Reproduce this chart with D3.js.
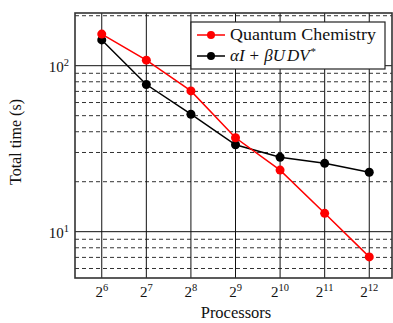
<!DOCTYPE html>
<html>
<head>
<meta charset="utf-8">
<script src="https://cdn.jsdelivr.net/npm/d3@7"></script>
<style>
  body { margin: 0; background: #fff; }
</style>
</head>
<body>
<svg id="chart" width="393" height="323" font-family="'Liberation Serif', 'DejaVu Serif', serif"></svg>
<script>
// processors as powers of two
const exponents = [6, 7, 8, 9, 10, 11, 12];
const quantumChem = [155, 108, 70.5, 36.8, 23.5, 12.9, 7.05];
const udvSeries = [143, 77, 51, 33.4, 28.1, 25.8, 22.8];
const yMajor = [10, 100];
const yMinor = [6, 7, 8, 9, 20, 30, 40, 50, 60, 70, 80, 90, 200];

const svg = d3.select("#chart");
const margin = { top: 13, right: 1, bottom: 45, left: 75 };
const width = 393 - margin.left - margin.right;
const height = 323 - margin.top - margin.bottom;

const x = d3.scaleLog().base(2).domain([Math.pow(2, 5.4), Math.pow(2, 12.51)]).range([0, width]);
const y = d3.scaleLog().domain([5.26, 207.7]).range([height, 0]);

const g = svg.append("g").attr("transform", "translate(" + margin.left + "," + margin.top + ")");

// minor horizontal grid (dashed)
g.selectAll(".minor").data(yMinor).enter().append("line")
  .attr("x1", 0).attr("x2", width)
  .attr("y1", d => y(d)).attr("y2", d => y(d))
  .attr("stroke", "#333").attr("stroke-width", 1)
  .attr("stroke-dasharray", "4,3");

// major horizontal grid
g.selectAll(".major").data(yMajor).enter().append("line")
  .attr("x1", 0).attr("x2", width)
  .attr("y1", d => y(d)).attr("y2", d => y(d))
  .attr("stroke", "#111").attr("stroke-width", 1);

// vertical grid
g.selectAll(".vgrid").data(exponents).enter().append("line")
  .attr("x1", d => x(Math.pow(2, d))).attr("x2", d => x(Math.pow(2, d)))
  .attr("y1", 0).attr("y2", height)
  .attr("stroke", "#111").attr("stroke-width", 1);

// frame
g.append("rect").attr("x", 0).attr("y", 0).attr("width", width).attr("height", height)
  .attr("fill", "none").attr("stroke", "#333").attr("stroke-width", 1.6);

// x tick labels
const xl = g.selectAll(".xl").data(exponents).enter().append("text")
  .attr("x", d => x(Math.pow(2, d)))
  .attr("y", height + 19)
  .attr("text-anchor", "middle")
  .attr("fill", "#111")
  .style("font-size", "15px");
xl.append("tspan").text("2");
xl.append("tspan").attr("dy", -6).style("font-size", "10.5px").text(d => d);

// y tick labels
const yl = g.selectAll(".yl").data(yMajor).enter().append("text")
  .attr("x", -6)
  .attr("y", d => y(d) + 6)
  .attr("text-anchor", "end")
  .attr("fill", "#111")
  .style("font-size", "15px");
yl.append("tspan").text("10");
yl.append("tspan").attr("dy", -6).style("font-size", "10.5px").text(d => Math.log10(d));

// axis titles
g.append("text")
  .attr("x", 161).attr("y", height + 40)
  .attr("text-anchor", "middle").style("font-size", "16.5px").attr("fill", "#111")
  .text("Processors");
g.append("text")
  .attr("transform", "translate(-54,129) rotate(-90)")
  .attr("text-anchor", "middle").style("font-size", "16px").attr("fill", "#111")
  .text("Total time (s)");

// series
const series = [
  { name: "Quantum Chemistry", values: quantumChem, color: "#ff0000" },
  { name: "udv", values: udvSeries, color: "#000000" }
];
const line = d3.line()
  .x((d, i) => x(Math.pow(2, exponents[i])))
  .y(d => y(d));

series.slice().reverse().forEach(s => {
  g.append("path").datum(s.values)
    .attr("d", line).attr("fill", "none")
    .attr("stroke", s.color).attr("stroke-width", 1.5);
  g.selectAll(null).data(s.values).enter().append("circle")
    .attr("cx", (d, i) => x(Math.pow(2, exponents[i])))
    .attr("cy", d => y(d))
    .attr("r", 4.5).attr("fill", s.color);
});

// legend
const lg = svg.append("g").attr("transform", "translate(191,22)");
lg.append("rect").attr("width", 194).attr("height", 47)
  .attr("fill", "#fff").attr("stroke", "#222").attr("stroke-width", 1.2);
series.forEach((s, i) => {
  const yy = 13 + i * 21;
  lg.append("line").attr("x1", 6).attr("x2", 34).attr("y1", yy).attr("y2", yy)
    .attr("stroke", s.color).attr("stroke-width", 1.5);
  lg.append("circle").attr("cx", 20).attr("cy", yy).attr("r", 4).attr("fill", s.color);
});
lg.append("text").attr("x", 39).attr("y", 18).attr("fill", "#111")
  .attr("textLength", 146).attr("lengthAdjust", "spacingAndGlyphs")
  .style("font-size", "17px").text("Quantum Chemistry");
const t2 = lg.append("text").attr("x", 39).attr("y", 39).attr("fill", "#111")
  .style("font-size", "17px").style("font-style", "italic");
t2.append("tspan").text("αI");
t2.append("tspan").style("font-style", "normal").attr("dx", 5).text("+");
t2.append("tspan").attr("dx", 5).text("βU");
t2.append("tspan").attr("dx", 2).text("DV");
t2.append("tspan").attr("dx", 1).attr("dy", -6).style("font-size", "11px").style("font-style", "normal").text("*");
</script>
</body>
</html>
